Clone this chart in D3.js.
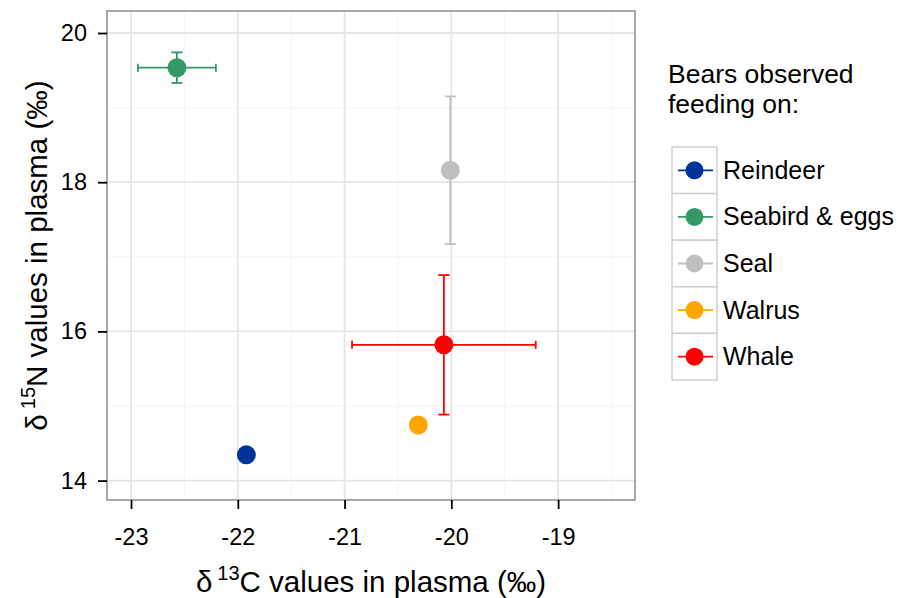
<!DOCTYPE html>
<html>
<head>
<meta charset="utf-8">
<script src="https://cdn.jsdelivr.net/npm/d3@7"></script>
<style>
  html, body { margin: 0; padding: 0; background: #fff; }
  svg { display: block; font-family: "Liberation Sans", Arial, sans-serif; }
</style>
</head>
<body>
<svg id="chart" width="898" height="598"></svg>
<script>
// ---- data ----
const categories = ["Reindeer", "Seabird & eggs", "Seal", "Walrus", "Whale"];
const colors = ["#003399", "#339966", "#bfbfbf", "#ffa500", "#ff0000"];
const c13 = [-21.92, -22.57, -20.01, -20.31, -20.07];   // δ13C mean
const n15 = [14.345, 19.535, 18.16, 14.745, 15.82];     // δ15N mean
const c13Err = [0, 0.365, 0, 0, 0.86];                  // horizontal error half-width
const n15Err = [0, 0.205, 0.99, 0, 0.935];              // vertical error half-width
const xTicks = [-23, -22, -21, -20, -19];
const yTicks = [14, 16, 18, 20];
const xMinor = [-22.5, -21.5, -20.5, -19.5, -18.5];
const yMinor = [15, 17, 19];
const legendTitle = ["Bears observed", "feeding on:"];

// ---- layout ----
const svg = d3.select("#chart");
const P = { left: 107, right: 635, top: 11, bottom: 500 };
const x = d3.scaleLinear().domain([-23.225, -18.28]).range([P.left, P.right]);
const y = d3.scaleLinear().domain([13.74, 20.295]).range([P.bottom, P.top]);

const points = categories.map((c, i) => ({
  cat: c, color: colors[i], x: c13[i], y: n15[i], ex: c13Err[i], ey: n15Err[i]
}));

// panel background
svg.append("rect").attr("x", P.left).attr("y", P.top)
  .attr("width", P.right - P.left).attr("height", P.bottom - P.top)
  .attr("fill", "#fff");

// minor grid
const grid = svg.append("g");
grid.selectAll(".mx").data(xMinor).join("line")
  .attr("x1", d => x(d)).attr("x2", d => x(d)).attr("y1", P.top).attr("y2", P.bottom)
  .attr("stroke", "#f4f4f4").attr("stroke-width", 1);
grid.selectAll(".my").data(yMinor).join("line")
  .attr("y1", d => y(d)).attr("y2", d => y(d)).attr("x1", P.left).attr("x2", P.right)
  .attr("stroke", "#f4f4f4").attr("stroke-width", 1);
// major grid
grid.selectAll(".Mx").data(xTicks).join("line")
  .attr("x1", d => x(d)).attr("x2", d => x(d)).attr("y1", P.top).attr("y2", P.bottom)
  .attr("stroke", "#e6e6e6").attr("stroke-width", 1.8);
grid.selectAll(".My").data(yTicks).join("line")
  .attr("y1", d => y(d)).attr("y2", d => y(d)).attr("x1", P.left).attr("x2", P.right)
  .attr("stroke", "#e6e6e6").attr("stroke-width", 1.8);

// error bars
const eb = svg.append("g").attr("stroke-width", 1.8).attr("fill", "none");
const vCap = 5.6, hCap = 4;
points.filter(d => d.ey > 0).forEach(d => {
  const g = eb.append("g").attr("stroke", d.color);
  const cx = x(d.x);
  g.append("line").attr("x1", cx).attr("x2", cx).attr("y1", y(d.y - d.ey)).attr("y2", y(d.y + d.ey));
  g.append("line").attr("x1", cx - vCap).attr("x2", cx + vCap).attr("y1", y(d.y - d.ey)).attr("y2", y(d.y - d.ey));
  g.append("line").attr("x1", cx - vCap).attr("x2", cx + vCap).attr("y1", y(d.y + d.ey)).attr("y2", y(d.y + d.ey));
});
points.filter(d => d.ex > 0).forEach(d => {
  const g = eb.append("g").attr("stroke", d.color);
  const cy = y(d.y);
  g.append("line").attr("y1", cy).attr("y2", cy).attr("x1", x(d.x - d.ex)).attr("x2", x(d.x + d.ex));
  g.append("line").attr("y1", cy - hCap).attr("y2", cy + hCap).attr("x1", x(d.x - d.ex)).attr("x2", x(d.x - d.ex));
  g.append("line").attr("y1", cy - hCap).attr("y2", cy + hCap).attr("x1", x(d.x + d.ex)).attr("x2", x(d.x + d.ex));
});

// points
svg.append("g").selectAll("circle").data(points).join("circle")
  .attr("cx", d => x(d.x)).attr("cy", d => y(d.y)).attr("r", 9.5)
  .attr("fill", d => d.color);

// panel border
svg.append("rect").attr("x", P.left).attr("y", P.top)
  .attr("width", P.right - P.left).attr("height", P.bottom - P.top)
  .attr("fill", "none").attr("stroke", "#8c8c8c").attr("stroke-width", 1.5);

// axes
const xAxis = svg.append("g").attr("transform", `translate(0,${P.bottom})`)
  .call(d3.axisBottom(x).tickValues(xTicks).tickSize(9).tickPadding(19).tickFormat(d3.format("d")));
const yAxis = svg.append("g").attr("transform", `translate(${P.left},0)`)
  .call(d3.axisLeft(y).tickValues(yTicks).tickSize(9).tickPadding(11).tickFormat(d3.format("d")));
[xAxis, yAxis].forEach(a => {
  a.select(".domain").remove();
  a.selectAll(".tick line").attr("stroke", "#000").attr("stroke-width", 1.8);
  a.selectAll(".tick text").attr("fill", "#000").attr("font-size", 23.5)
    .attr("font-family", "Liberation Sans, Arial, sans-serif");
});
xAxis.selectAll(".tick text").text(d => d < 0 ? "-" + Math.abs(d) : d);

// axis titles
const xt = svg.append("text").attr("x", (P.left + P.right) / 2).attr("y", 592)
  .attr("text-anchor", "middle").attr("font-size", 29.5).attr("fill", "#000");
xt.append("tspan").text("δ");
xt.append("tspan").attr("font-size", 20).attr("dy", -12).attr("dx", 5).text("13");
xt.append("tspan").attr("dy", 12).text("C values in plasma (‰)");

const yt = svg.append("text")
  .attr("transform", `translate(47,${(P.top + P.bottom) / 2}) rotate(-90)`)
  .attr("text-anchor", "middle").attr("font-size", 29.5).attr("fill", "#000");
yt.append("tspan").text("δ");
yt.append("tspan").attr("font-size", 20).attr("dy", -12).attr("dx", 5).text("15");
yt.append("tspan").attr("dy", 12).text("N values in plasma (‰)");

// legend
const L = { x: 672, y: 147, w: 45, h: 46.6 };
const lg = svg.append("g");
lg.selectAll(".lt").data(legendTitle).join("text")
  .attr("x", 668).attr("y", (d, i) => 83 + i * 30)
  .attr("font-size", 26.5).attr("fill", "#000").text(d => d);
const rows = lg.selectAll(".row").data(points).join("g")
  .attr("transform", (d, i) => `translate(${L.x},${L.y + i * L.h})`);
rows.append("rect").attr("width", L.w).attr("height", L.h)
  .attr("fill", "#fff").attr("stroke", "#cfcfcf").attr("stroke-width", 1.5);
rows.append("line").attr("x1", 6).attr("x2", L.w - 4).attr("y1", L.h / 2).attr("y2", L.h / 2)
  .attr("stroke", d => d.color).attr("stroke-width", 1.8);
rows.append("circle").attr("cx", L.w / 2).attr("cy", L.h / 2).attr("r", 9)
  .attr("fill", d => d.color);
rows.append("text").attr("x", L.w + 6).attr("y", L.h / 2 + 8.5)
  .attr("font-size", 25).attr("fill", "#000").text(d => d.cat);
</script>
</body>
</html>
